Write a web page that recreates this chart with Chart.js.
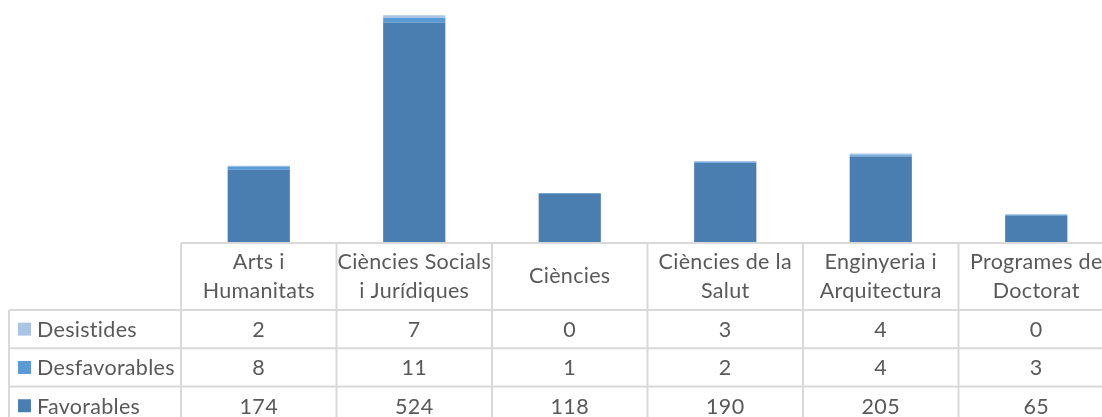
<!DOCTYPE html>
<html><head><meta charset="utf-8">
<script src="https://cdn.jsdelivr.net/npm/chart.js@4"></script>
<style>
html,body{margin:0;padding:0;overflow:hidden;background:#fff;width:1102px;height:417px}
#wrap{position:absolute;left:0;top:0;width:1114px;height:417px}
</style></head>
<body><div id="wrap"><canvas id="c"></canvas></div>
<script>
const categories = [["Arts i","Humanitats"],["Ciències Socials","i Jurídiques"],["Ciències"],["Ciències de la","Salut"],["Enginyeria i","Arquitectura"],["Programes de","Doctorat"]];
const favorables = [174,524,118,190,205,65];
const desfavorables = [8,11,1,2,4,3];
const desistides = [2,7,0,3,4,0];
const seriesNames = ["Favorables","Desfavorables","Desistides"];
const seriesColors = ["#4a7eb1","#5b9bd5","#a9c4e6"];

const FONT = 'Lato, "Liberation Sans", sans-serif';
const TEXT = '#595959';
const LINE = '#d9d9d9';

const tablePlugin = {
  id: 'dataTable',
  afterDraw(chart) {
    const ctx = chart.ctx, xs = chart.scales.x, area = chart.chartArea;
    const n = categories.length;
    const half = (xs.getPixelForValue(1) - xs.getPixelForValue(0)) / 2;
    const top = area.bottom;
    const hdrH = 67, rowH = 38.3, leftX = 9;
    const rowsTop = top + hdrH;
    const nRows = chart.data.datasets.length;
    const bottom = rowsTop + rowH * nRows;
    ctx.save();
    ctx.strokeStyle = LINE;
    ctx.lineWidth = 2;
    ctx.beginPath();
    ctx.moveTo(area.left, top); ctx.lineTo(area.right + 2, top);
    for (let r = 0; r <= nRows; r++) {
      const y = rowsTop + r * rowH;
      ctx.moveTo(leftX, y); ctx.lineTo(area.right + 2, y);
    }
    ctx.moveTo(leftX, rowsTop); ctx.lineTo(leftX, bottom);
    for (let i = 0; i <= n; i++) {
      const xb = xs.getPixelForValue(0) - half + i * 2 * half;
      ctx.moveTo(xb, top); ctx.lineTo(xb, bottom);
    }
    ctx.stroke();

    ctx.fillStyle = TEXT;
    ctx.font = '21.5px ' + FONT;
    if ('letterSpacing' in ctx) ctx.letterSpacing = '0.3px';
    ctx.textAlign = 'center';
    ctx.textBaseline = 'middle';
    const lh = 29;
    categories.forEach((lab, i) => {
      const cx = xs.getPixelForValue(i);
      const lines = Array.isArray(lab) ? lab : [lab];
      const cy = top + hdrH / 2;
      lines.forEach((t, k) => {
        ctx.fillText(t, cx, cy + (k - (lines.length - 1) / 2) * lh);
      });
    });
    const dsets = chart.data.datasets.slice().reverse();
    dsets.forEach((ds, r) => {
      const cy = rowsTop + r * rowH + rowH / 2;
      ctx.fillStyle = ds.backgroundColor;
      ctx.fillRect(18, cy - 6.5, 13, 13);
      ctx.fillStyle = TEXT;
      ctx.textAlign = 'left';
      ctx.fillText(ds.label, 37, cy + 1);
      ctx.textAlign = 'center';
      ds.data.forEach((v, i) => {
        ctx.fillText(String(v), xs.getPixelForValue(i), cy + 1);
      });
    });
    ctx.restore();
  }
};

new Chart(document.getElementById('c'), {
  type: 'bar',
  data: {
    labels: categories,
    datasets: [
      { label: seriesNames[0], data: favorables, backgroundColor: seriesColors[0] },
      { label: seriesNames[1], data: desfavorables, backgroundColor: seriesColors[1] },
      { label: seriesNames[2], data: desistides, backgroundColor: seriesColors[2] }
    ]
  },
  options: {
    responsive: true,
    maintainAspectRatio: false,
    animation: false,
    devicePixelRatio: 1,
    layout: { padding: { left: 181, right: 0, top: 0, bottom: 174 } },
    datasets: { bar: { barPercentage: 0.8, categoryPercentage: 0.5, borderWidth: 0 } },
    plugins: { legend: { display: false }, tooltip: { enabled: false }, title: { display: false } },
    scales: {
      x: { stacked: true, display: false, grid: { display: false } },
      y: { stacked: true, display: false, min: 0, max: 578, grid: { display: false } }
    }
  },
  plugins: [tablePlugin]
});
</script>
</body></html>
